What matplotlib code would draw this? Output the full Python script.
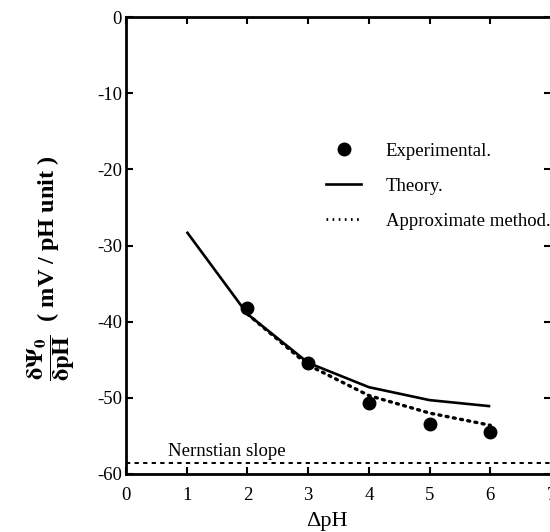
import matplotlib
matplotlib.use("Agg")
import matplotlib.pyplot as plt
from matplotlib.lines import Line2D

plt.rcParams['font.family'] = ['Liberation Serif', 'DejaVu Serif']
plt.rcParams['mathtext.fontset'] = 'stix'
plt.rcParams['axes.unicode_minus'] = False

# Data
delta_ph_theory = [1, 2, 3, 4, 5, 6]
theory = [-28.2, -39.0, -45.4, -48.6, -50.3, -51.1]
delta_ph_approx = [2, 3, 4, 5, 6]
approx = [-39.0, -45.7, -49.7, -52.0, -53.6]
delta_ph_exp = [2, 3, 4, 5, 6]
experimental = [-38.2, -45.4, -50.7, -53.4, -54.5]
nernst = -58.5
xticks = [0, 1, 2, 3, 4, 5, 6, 7]
yticks = [0, -10, -20, -30, -40, -50, -60]

fig = plt.figure(figsize=(5.5, 5.32), dpi=100)
ax = fig.add_axes([126/550, 58/532, 425/550, 457/532])

ax.plot(delta_ph_theory, theory, color='black', lw=1.9, solid_capstyle='butt')
ax.plot(delta_ph_approx, approx, color='black', lw=2.4, linestyle=(0, (0.6, 1.6)), dash_capstyle='round')
ax.plot(delta_ph_exp, experimental, 'o', color='black', ms=9, linestyle='none')
ax.axhline(nernst, color='black', lw=1.4, linestyle=(0, (2.2, 2.2)))
ax.text(0.7, nernst + 0.4, 'Nernstian slope', fontsize=13.5, ha='left', va='bottom')

ax.set_xlim(0, 7)
ax.set_ylim(-60, 0)
ax.set_xticks(xticks)
ax.set_yticks(yticks)
ax.tick_params(direction='in', length=5, width=1.5, top=True, right=True,
               labelsize=13.5)
ax.tick_params(axis='x', pad=9)
ax.tick_params(axis='y', pad=3)
for s in ax.spines.values():
    s.set_linewidth(2)

ax.set_xlabel('ΔpH', fontsize=16)
ax.xaxis.set_label_coords(0.473, -0.084)
ax.set_ylabel(r'$\mathbf{\dfrac{\delta\Psi_0}{\delta pH}}$  ( mV / pH unit )',
              fontsize=17.5, fontweight='bold')
ax.yaxis.set_label_coords(-0.115, 0.45)

handles = [
    Line2D([], [], marker='o', color='black', ms=9, linestyle='none'),
    Line2D([], [], color='black', lw=1.9),
    Line2D([], [], color='black', lw=2.0, linestyle=(0, (0.6, 1.6))),
]
labels = ['Experimental.', 'Theory.', 'Approximate method.']
ax.legend(handles, labels, loc='upper left', bbox_to_anchor=(0.47, 0.725),
          frameon=False, fontsize=13.5, handlelength=1.9, handletextpad=1.3,
          labelspacing=0.95, borderpad=0, borderaxespad=0)

fig.savefig('out.png', dpi=100)
